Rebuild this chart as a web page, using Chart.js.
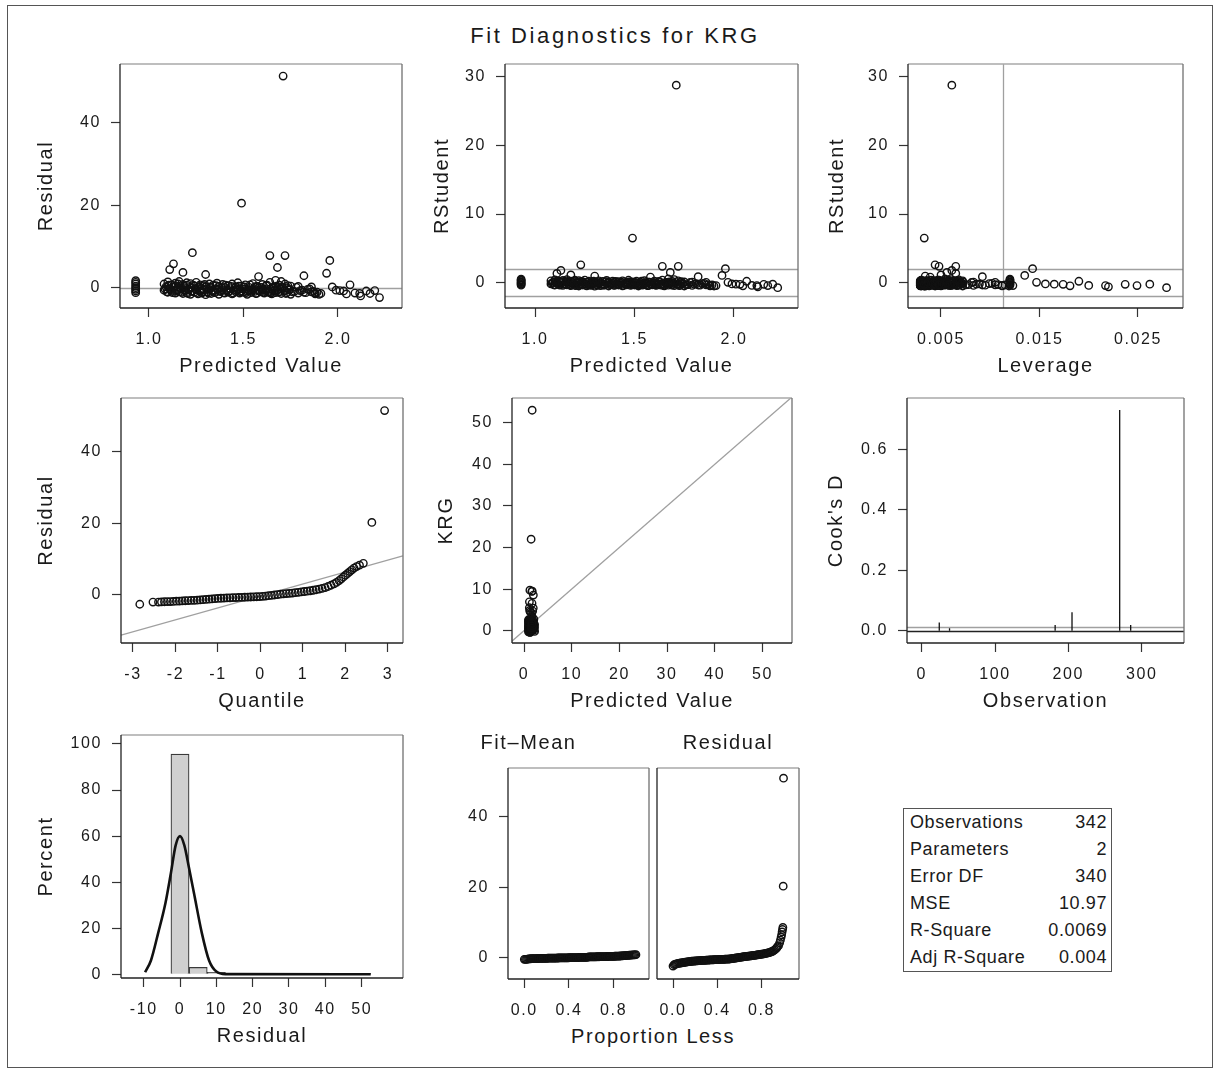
<!DOCTYPE html>
<html>
<head>
<meta charset="utf-8">
<script src="https://cdn.jsdelivr.net/npm/chart.js@4.4.1/dist/chart.umd.min.js"></script>
<style>
  body { margin: 0; background: #fff; font-family: "Liberation Sans", Arial, sans-serif; color: #1a1a1a; }
  #page { position: relative; width: 1218px; height: 1073px; overflow: hidden; }
  #border { position: absolute; left: 7px; top: 5px; width: 1204px; height: 1061px; border: 1.5px solid #555; }
  canvas { position: absolute; }
  .label { position: absolute; text-align: center; white-space: nowrap; }
  #title { left: 315px; top: 23px; width: 600px; font-size: 22px; line-height: 26px; letter-spacing: 2.6px; }
  #propLess { left: 453px; top: 1024px; width: 400px; font-size: 20px; line-height: 24px; letter-spacing: 1.6px; }
  #stats { position: absolute; left: 903px; top: 808px; width: 209px; border: 1.3px solid #555; border-collapse: collapse; font-size: 18px; letter-spacing: 0.6px; }
  #stats td { height: 27px; padding: 0; line-height: 27px; }
  #stats td.k { padding-left: 6px; text-align: left; }
  #stats td.v { padding-right: 4px; text-align: right; }
</style>
</head>
<body>
<div id="page">
  <div id="border"></div>
  <div id="title" class="label">Fit Diagnostics for KRG</div>
  <div id="propLess" class="label">Proportion Less</div>
  <table id="stats"></table>
</div>
<script>
// ---- observations (one entry per plotted observation) ----
const predicted = [
  0.93,0.93,0.93,0.93,0.93,0.93,0.93,0.93,1.08,1.08,
  1.09,1.10,1.10,1.10,1.11,1.11,1.12,1.12,1.13,1.13,
  1.14,1.14,1.14,1.15,1.16,1.16,1.16,1.17,1.18,1.18,
  1.18,1.19,1.19,1.20,1.20,1.20,1.21,1.22,1.22,1.22,
  1.23,1.23,1.24,1.24,1.25,1.25,1.26,1.26,1.27,1.27,
  1.28,1.28,1.29,1.29,1.30,1.30,1.30,1.31,1.32,1.32,
  1.33,1.33,1.34,1.34,1.35,1.36,1.36,1.37,1.37,1.38,
  1.39,1.39,1.40,1.40,1.41,1.42,1.42,1.43,1.44,1.44,
  1.45,1.46,1.46,1.47,1.47,1.48,1.49,1.49,1.49,1.50,
  1.51,1.51,1.52,1.53,1.53,1.54,1.55,1.55,1.56,1.57,
  1.57,1.58,1.58,1.59,1.60,1.60,1.61,1.62,1.62,1.63,
  1.64,1.64,1.64,1.65,1.66,1.66,1.67,1.67,1.68,1.68,
  1.69,1.69,1.70,1.70,1.71,1.72,1.72,1.72,1.73,1.73,
  1.74,1.75,1.75,1.77,1.79,1.79,1.81,1.82,1.82,1.84,
  1.86,1.86,1.88,1.88,1.90,1.91,1.94,1.957,1.97,1.99,
  2.01,2.03,2.045,2.064,2.09,2.115,2.12,2.15,2.17,2.195,
  2.22,
  1.085,1.095,1.105,1.115,1.125,1.135,1.145,1.155,1.165,1.175,
  1.185,1.195,1.205,1.215,1.225,1.235,1.245,1.255,1.265,1.275,
  1.285,1.295,1.305,1.315,1.325,1.335,1.345,1.355,1.365,1.375,
  1.385,1.395,1.405,1.415,1.425,1.435,1.445,1.455,1.465,1.475,
  1.485,1.495,1.505,1.515,1.525,1.535,1.545,1.555,1.565,1.575,
  1.585,1.595,1.605,1.615,1.625,1.635,1.645,1.655,1.665,1.675,
  1.685,1.695,1.705,1.715,1.725,1.735,1.745,1.76,1.78,1.80,
  1.83,1.85,1.87,1.89,1.48,1.52,1.56,1.60,1.64,1.68
];
const residual = [
  -1.2,-0.8,-0.4,0.0,0.4,0.9,1.3,1.7,-0.6,0.9,
  0.2,-1.1,0.4,1.4,-0.2,4.4,-0.9,0.7,5.8,0.1,
  -1.3,0.5,1.1,-0.5,-1.0,0.3,1.5,-0.3,-1.4,0.8,
  3.7,-0.7,0.0,-1.2,0.6,1.2,-0.4,-1.6,-0.1,1.0,
  8.5,-0.8,-1.1,0.4,-0.5,1.3,-1.5,0.1,-0.9,0.7,
  -1.3,-0.2,0.5,-0.6,-1.7,3.2,0.2,-1.0,-0.4,0.9,
  -1.4,0.0,-0.8,0.6,-1.2,-0.3,1.1,-1.6,0.3,-0.9,
  -0.5,0.8,-1.3,0.1,-0.7,-1.1,0.5,-0.2,-1.5,0.9,
  -0.6,-1.0,0.2,-0.4,1.2,-1.3,20.5,-0.8,0.4,-1.1,
  -0.3,0.7,-1.6,-0.7,0.1,-1.2,-0.5,1.0,-0.9,-1.4,
  0.3,2.7,-0.6,-1.0,-0.2,0.8,-1.3,-0.7,0.5,-1.1,
  7.8,-0.4,1.3,-1.5,-0.8,0.2,-1.2,1.8,4.9,-0.5,
  -1.0,0.6,-1.4,1.5,51.3,7.8,-0.7,0.9,-1.2,0.0,
  -0.5,-1.6,0.4,-0.9,-1.3,0.3,-0.6,2.9,-1.1,-0.4,
  -1.0,0.2,-1.5,-1.3,-1.6,-1.4,3.5,6.6,0.2,-0.6,
  -0.7,-0.8,-1.5,0.7,-1.3,-1.4,-2.0,-0.8,-1.4,-0.7,
  -2.4,
  -0.3,-1.0,0.6,-0.5,-1.2,0.2,-0.8,0.9,-0.4,-1.1,
  0.4,-0.6,-1.4,0.1,-0.9,0.6,-0.2,-1.2,0.3,-0.7,
  -1.0,0.8,-0.3,-1.3,0.2,-0.6,-1.1,0.5,-0.4,-0.9,
  0.0,-1.2,0.6,-0.5,-0.8,0.3,-1.3,-0.1,-0.7,0.4,
  -1.0,-0.3,0.2,-1.2,-0.6,0.7,-0.9,-0.2,-1.4,0.3,
  -0.8,0.1,-1.1,-0.4,0.6,-0.9,-1.3,0.0,-0.6,0.4,
  -1.1,-0.3,0.2,-0.8,-1.4,0.5,-0.5,-1.0,0.1,-0.7,
  -1.2,-0.3,-0.9,-1.1,-0.2,-0.9,0.2,-0.5,-1.0,0.0
];
const rstudent = [
  -0.36,-0.24,-0.12,0.00,0.12,0.27,0.39,0.51,-0.18,0.27,
  0.06,-0.33,0.12,0.42,-0.06,1.35,-0.27,0.21,1.78,0.03,
  -0.39,0.15,0.33,-0.15,-0.30,0.09,0.45,-0.09,-0.42,0.24,
  1.13,-0.21,0.00,-0.36,0.18,0.36,-0.12,-0.48,-0.03,0.30,
  2.60,-0.24,-0.33,0.12,-0.15,0.39,-0.45,0.03,-0.27,0.21,
  -0.39,-0.06,0.15,-0.18,-0.51,0.97,0.06,-0.30,-0.12,0.27,
  -0.42,0.00,-0.24,0.18,-0.36,-0.09,0.33,-0.48,0.09,-0.27,
  -0.15,0.24,-0.39,0.03,-0.21,-0.33,0.15,-0.06,-0.45,0.27,
  -0.18,-0.30,0.06,-0.12,0.36,-0.39,6.50,-0.24,0.12,-0.33,
  -0.09,0.21,-0.48,-0.21,0.03,-0.36,-0.15,0.30,-0.27,-0.42,
  0.09,0.82,-0.18,-0.30,-0.06,0.24,-0.39,-0.21,0.15,-0.33,
  2.38,-0.12,0.39,-0.45,-0.24,0.06,-0.36,0.54,1.50,-0.15,
  -0.30,0.18,-0.42,0.45,28.75,2.38,-0.21,0.27,-0.36,0.00,
  -0.15,-0.48,0.12,-0.27,-0.39,0.09,-0.18,0.88,-0.33,-0.12,
  -0.30,0.06,-0.45,-0.39,-0.48,-0.42,1.06,2.05,0.06,-0.18,
  -0.21,-0.24,-0.45,0.21,-0.39,-0.42,-0.60,-0.24,-0.42,-0.21,
  -0.72,
  -0.09,-0.30,0.18,-0.15,-0.36,0.06,-0.24,0.27,-0.12,-0.33,
  0.12,-0.18,-0.42,0.03,-0.27,0.18,-0.06,-0.36,0.09,-0.21,
  -0.30,0.24,-0.09,-0.39,0.06,-0.18,-0.33,0.15,-0.12,-0.27,
  0.00,-0.36,0.18,-0.15,-0.24,0.09,-0.39,-0.03,-0.21,0.12,
  -0.30,-0.09,0.06,-0.36,-0.18,0.21,-0.27,-0.06,-0.42,0.09,
  -0.24,0.03,-0.33,-0.12,0.18,-0.27,-0.39,0.00,-0.18,0.12,
  -0.33,-0.09,0.06,-0.24,-0.42,0.15,-0.15,-0.30,0.03,-0.21,
  -0.36,-0.09,-0.27,-0.33,-0.06,-0.27,0.06,-0.15,-0.30,0.00
];
const leverage = [
  0.0120,0.0120,0.0120,0.0120,0.0120,0.0120,0.0120,0.0120,0.0072,0.0072,
  0.0070,0.0068,0.0068,0.0068,0.0065,0.0065,0.0063,0.0063,0.0061,0.0061,
  0.0058,0.0058,0.0058,0.0056,0.0054,0.0054,0.0054,0.0052,0.0050,0.0050,
  0.0050,0.0049,0.0049,0.0047,0.0047,0.0047,0.0046,0.0044,0.0044,0.0044,
  0.0044,0.0042,0.0041,0.0041,0.0040,0.0040,0.0038,0.0038,0.0037,0.0037,
  0.0036,0.0036,0.0035,0.0035,0.0034,0.0034,0.0034,0.0033,0.0033,0.0033,
  0.0032,0.0032,0.0031,0.0031,0.0031,0.0030,0.0030,0.0030,0.0030,0.0030,
  0.0029,0.0029,0.0029,0.0029,0.0029,0.0029,0.0029,0.0029,0.0029,0.0029,
  0.0029,0.0029,0.0029,0.0030,0.0030,0.0030,0.0033,0.0031,0.0031,0.0032,
  0.0032,0.0032,0.0033,0.0034,0.0034,0.0035,0.0036,0.0036,0.0037,0.0038,
  0.0038,0.0039,0.0039,0.0041,0.0042,0.0042,0.0043,0.0045,0.0045,0.0047,
  0.0048,0.0048,0.0048,0.0050,0.0052,0.0052,0.0054,0.0054,0.0056,0.0056,
  0.0058,0.0058,0.0060,0.0060,0.0061,0.0065,0.0065,0.0065,0.0067,0.0067,
  0.0070,0.0072,0.0072,0.0078,0.0083,0.0083,0.0089,0.0092,0.0092,0.0099,
  0.0105,0.0105,0.0112,0.0112,0.0119,0.0123,0.0135,0.0143,0.0147,0.0156,
  0.0165,0.0174,0.0181,0.0190,0.0200,0.0217,0.0220,0.0237,0.0249,0.0262,
  0.0279,
  0.0071,0.0069,0.0067,0.0064,0.0062,0.0060,0.0057,0.0055,0.0053,0.0051,
  0.0050,0.0048,0.0047,0.0045,0.0043,0.0042,0.0040,0.0039,0.0038,0.0037,
  0.0036,0.0035,0.0034,0.0033,0.0032,0.0032,0.0031,0.0030,0.0030,0.0030,
  0.0029,0.0029,0.0029,0.0029,0.0029,0.0029,0.0029,0.0029,0.0030,0.0030,
  0.0031,0.0031,0.0032,0.0033,0.0034,0.0034,0.0035,0.0036,0.0037,0.0038,
  0.0040,0.0041,0.0043,0.0044,0.0046,0.0047,0.0049,0.0051,0.0053,0.0055,
  0.0057,0.0059,0.0061,0.0064,0.0066,0.0069,0.0071,0.0075,0.0081,0.0086,
  0.0095,0.0102,0.0108,0.0115,0.0030,0.0033,0.0037,0.0042,0.0048,0.0056
];

// ---- Q-Q plot of residuals ----
const qqQuantile = [
  -2.84,-2.53,-2.40,-2.33,-2.26,-2.19,-2.12,-2.05,-1.98,-1.91,
  -1.84,-1.77,-1.70,-1.63,-1.56,-1.49,-1.42,-1.35,-1.28,-1.21,
  -1.14,-1.07,-1.00,-0.93,-0.86,-0.79,-0.72,-0.65,-0.58,-0.51,
  -0.44,-0.37,-0.30,-0.23,-0.16,-0.09,-0.02,0.05,0.12,0.19,
  0.26,0.33,0.40,0.47,0.54,0.61,0.68,0.75,0.82,0.89,
  0.96,1.03,1.10,1.17,1.24,1.31,1.38,1.45,1.52,1.59,
  1.66,1.73,1.79,1.85,1.90,1.95,2.00,2.05,2.10,2.15,
  2.20,2.26,2.33,2.42,2.62,2.92
];
const qqResidual = [
  -2.6,-2.0,-2.0,-1.95,-1.9,-1.88,-1.85,-1.8,-1.75,-1.72,
  -1.68,-1.62,-1.58,-1.53,-1.5,-1.45,-1.38,-1.32,-1.26,-1.18,
  -1.1,-1.03,-0.97,-0.92,-0.88,-0.84,-0.8,-0.77,-0.74,-0.7,
  -0.67,-0.64,-0.6,-0.57,-0.53,-0.5,-0.46,-0.4,-0.32,-0.22,
  -0.12,-0.02,0.1,0.2,0.3,0.37,0.44,0.52,0.62,0.73,
  0.84,0.95,1.05,1.16,1.3,1.45,1.62,1.82,2.05,2.35,
  2.7,3.1,3.5,4.0,4.5,5.0,5.5,6.0,6.5,7.0,
  7.5,7.9,8.3,8.8,20.2,51.4
];
const qqLineX = [-3.28, 3.35];
const qqLineY = [-11.2, 10.9];
const identityLine = [-3, 57];

// ---- Cook's D needles ----
const cookObs = [24, 38, 182, 205, 270, 285];
const cookD = [0.027, 0.008, 0.019, 0.061, 0.729, 0.019];
const cookCutoff = 0.0117;

// ---- residual histogram and density curve ----
const histMid = [0, 5, 10, 15, 20, 25, 30, 35, 40, 45, 50];
const histPct = [95.6, 3.0, 0.9, 0, 0.3, 0, 0, 0, 0, 0, 0.3];
const curveX = [-9.6, -8, -6, -4, -2.5, -1.2, 0, 1.2, 2.5, 4, 6, 8, 10, 12.5, 52.5];
const curveY = [0.9, 6, 18, 31, 44, 56, 60, 56, 46, 34, 18, 6, 1.2, 0.1, 0];

// ---- residual-fit spread ----
const propFit = [
  0.00,0.02,0.04,0.06,0.08,0.10,0.12,0.14,0.16,0.18,0.20,0.22,0.24,0.26,0.28,0.30,0.32,
  0.34,0.36,0.38,0.40,0.42,0.44,0.46,0.48,0.50,0.52,0.54,0.56,0.58,0.60,0.62,0.64,0.66,
  0.68,0.70,0.72,0.74,0.76,0.78,0.80,0.82,0.84,0.86,0.88,0.90,0.92,0.94,0.96,0.98,1.00,
  0.01,0.03,0.05,0.07,0.09,0.11,0.13,0.15,0.17,0.19,0.21,0.23,0.25,0.27,0.29,0.31,0.33,
  0.35,0.37,0.39,0.41,0.43,0.45,0.47,0.49,0.51,0.53,0.55,0.57,0.59,0.61,0.63,0.65,0.67,
  0.69,0.71,0.73,0.75,0.77,0.79,0.81,0.83,0.85,0.87,0.89,0.91,0.93,0.95,0.97,0.99
];
const fitMean = [
  -0.49,-0.49,-0.34,-0.31,-0.29,-0.27,-0.25,-0.23,-0.21,-0.19,-0.18,-0.16,-0.15,-0.13,-0.12,-0.10,-0.09,
  -0.07,-0.06,-0.04,-0.03,-0.01,0.00,0.02,0.03,0.05,0.06,0.08,0.10,0.20,0.21,0.23,0.24,0.26,
  0.27,0.29,0.30,0.32,0.34,0.36,0.38,0.41,0.44,0.47,0.53,0.58,0.63,0.68,0.74,0.79,0.83,
  -0.49,-0.40,-0.33,-0.30,-0.28,-0.26,-0.24,-0.22,-0.20,-0.19,-0.17,-0.16,-0.14,-0.13,-0.11,-0.10,-0.08,
  -0.07,-0.05,-0.04,-0.02,-0.01,0.01,0.02,0.04,0.05,0.07,0.09,0.15,0.20,0.22,0.23,0.25,0.26,
  0.28,0.29,0.31,0.33,0.35,0.37,0.39,0.42,0.45,0.50,0.55,0.60,0.65,0.71,0.76,0.81
];
const propResid = [
  0.00,0.01,0.02,0.04,0.06,0.08,0.10,0.12,0.14,0.16,0.18,0.20,0.22,0.24,0.26,0.28,0.30,
  0.32,0.34,0.36,0.38,0.40,0.42,0.44,0.46,0.48,0.50,0.52,0.54,0.56,0.58,0.60,0.62,0.64,
  0.66,0.68,0.70,0.72,0.74,0.76,0.78,0.80,0.82,0.84,0.86,0.88,0.90,0.92,0.94,0.955,0.965,
  0.972,0.978,0.983,0.987,0.991,0.994,0.997,1.000,
  0.03,0.05,0.07,0.09,0.11,0.13,0.15,0.17,0.19,0.21,0.23,0.25,0.27,0.29,0.31,0.33,0.35,
  0.37,0.39,0.41,0.43,0.45,0.47,0.49,0.51,0.53,0.55,0.57,0.59,0.61,0.63,0.65,0.67,0.69,
  0.71,0.73,0.75,0.77,0.79,0.81,0.83,0.85,0.87,0.89,0.91,0.93,0.945
];
const sortedResid = [
  -2.4,-2.0,-1.9,-1.72,-1.58,-1.47,-1.36,-1.26,-1.16,-1.06,-1.0,-0.95,-0.9,-0.85,-0.8,-0.77,-0.73,
  -0.69,-0.65,-0.62,-0.59,-0.56,-0.53,-0.5,-0.47,-0.44,-0.42,-0.35,-0.25,-0.15,-0.05,0.05,0.15,0.25,
  0.33,0.41,0.5,0.58,0.67,0.77,0.87,0.97,1.08,1.2,1.35,1.55,1.8,2.2,2.8,3.4,4.2,
  5.0,5.8,6.5,7.3,8.0,8.6,20.3,51.0,
  -1.8,-1.65,-1.52,-1.41,-1.31,-1.21,-1.11,-1.03,-0.97,-0.92,-0.87,-0.82,-0.78,-0.75,-0.71,-0.67,-0.63,
  -0.6,-0.57,-0.54,-0.51,-0.48,-0.45,-0.43,-0.38,-0.3,-0.2,-0.1,0.0,0.1,0.2,0.29,0.37,0.45,
  0.54,0.62,0.72,0.82,0.92,1.02,1.14,1.27,1.45,1.67,2.0,2.5,3.1
];

// ---- fit statistics ----
const statLabels = ["Observations", "Parameters", "Error DF", "MSE", "R-Square", "Adj R-Square"];
const statValues = ["342", "2", "340", "10.97", "0.0069", "0.004"];

// ---- tick values ----
const predTicks = [1.0, 1.5, 2.0];
const residTicks = [0, 20, 40];
const rstudTicks = [0, 10, 20, 30];
const levTicks = [0.005, 0.015, 0.025];
const quantTicks = [-3, -2, -1, 0, 1, 2, 3];
const krgTicks = [0, 10, 20, 30, 40, 50];
const cookTicks = [0, 0.2, 0.4, 0.6];
const obsTicks = [0, 100, 200, 300];
const histXTicks = [-10, 0, 10, 20, 30, 40, 50];
const pctTicks = [0, 20, 40, 60, 80, 100];
const propTicks = [0, 0.4, 0.8];

const INK = "#1a1a1a";
const REF = "#a0a0a0";
Chart.defaults.font.family = '"Liberation Sans", Arial, sans-serif';
Chart.defaults.color = INK;
Chart.defaults.animation = false;
Chart.defaults.events = [];
Chart.defaults.plugins.legend.display = false;
Chart.defaults.plugins.tooltip.enabled = false;

// frame + reference lines
const panelPlugin = {
    id: "panel",
    beforeDraw(chart) {
        chart.ctx.letterSpacing = "1.6px";
    },
    beforeDatasetsDraw(chart, args, opts) {
        const { ctx, chartArea: a, scales } = chart;
        ctx.save();
        (opts.hLines || []).forEach((r) => {
            const y = Math.round(scales.y.getPixelForValue(r.value)) + 0.5;
            ctx.strokeStyle = r.color || REF;
            ctx.lineWidth = r.width || 1.3;
            ctx.beginPath();
            ctx.moveTo(a.left, y);
            ctx.lineTo(a.right, y);
            ctx.stroke();
        });
        (opts.vLines || []).forEach((r) => {
            const x = Math.round(scales.x.getPixelForValue(r.value)) + 0.5;
            ctx.strokeStyle = r.color || REF;
            ctx.lineWidth = r.width || 1.3;
            ctx.beginPath();
            ctx.moveTo(x, a.top);
            ctx.lineTo(x, a.bottom);
            ctx.stroke();
        });
        ctx.restore();
    },
    afterDraw(chart) {
        const { ctx, chartArea: a } = chart;
        const seg = (c, x1, y1, x2, y2) => {
            ctx.strokeStyle = c;
            ctx.beginPath();
            ctx.moveTo(x1, y1);
            ctx.lineTo(x2, y2);
            ctx.stroke();
        };
        ctx.save();
        ctx.lineWidth = 1.3;
        seg("#a8a8a8", a.left, a.top, a.right, a.top);
        seg("#707070", a.right, a.top, a.right, a.bottom);
        seg("#222", a.left, a.bottom, a.right, a.bottom);
        seg("#222", a.left, a.top, a.left, a.bottom);
        ctx.restore();
    },
};
Chart.register(panelPlugin);

const gridStyle = { drawOnChartArea: false, tickLength: 9, tickColor: "#333", tickWidth: 1.2, offset: false };

function xAxis(min, max, ticks, dec, title) {
    return {
        type: "linear", position: "bottom", min, max, offset: false,
        afterBuildTicks: (s) => { s.ticks = ticks.map((v) => ({ value: v })); },
        afterFit: (s) => { s.height = 72; s.paddingLeft = 0; s.paddingRight = 0; },
        grid: gridStyle,
        border: { display: false },
        ticks: { autoSkip: false, maxRotation: 0, padding: 13, font: { size: 16 }, color: INK, callback: (v) => v.toFixed(dec) },
        title: { display: !!title, text: title || "", font: { size: 20 }, color: INK, padding: { top: 0, bottom: 2 } },
    };
}

function yAxis(min, max, ticks, dec, title, gap) {
    return {
        type: "linear", position: "left", min, max,
        afterBuildTicks: (s) => { s.ticks = ticks.map((v) => ({ value: v })); },
        afterFit: (s) => { s.width = 100; s.paddingTop = 0; s.paddingBottom = 0; },
        grid: gridStyle,
        border: { display: false },
        ticks: { autoSkip: false, padding: 10, font: { size: 16 }, color: INK, callback: (v) => v.toFixed(dec) },
        title: { display: !!title, text: title || "", font: { size: 20 }, color: INK, padding: { top: 88 - (gap || 74), bottom: 0 } },
    };
}

// box = plot area in page pixels
function panel(box, config, opts = {}) {
    const padTop = opts.header ? 39 : 2;
    const left = box.l - (opts.noY ? 2 : 100);
    const top = box.t - padTop;
    const cv = document.createElement("canvas");
    cv.width = box.r + 2 - left;
    cv.height = box.b + 72 - top;
    cv.style.left = left + "px";
    cv.style.top = top + "px";
    document.getElementById("page").appendChild(cv);
    config.options.responsive = false;
    config.options.layout = { autoPadding: false, padding: { top: 2, right: 2, left: opts.noY ? 2 : 0, bottom: 0 } };
    return new Chart(cv, config);
}

const ring = {
    pointStyle: "circle", pointRadius: 3.7, pointBorderWidth: 1.4,
    pointBorderColor: "#111", pointBackgroundColor: "rgba(0,0,0,0)", showLine: false,
};
const refLine = (data) => ({
    type: "line", data, borderColor: REF, borderWidth: 1.3, pointRadius: 0, showLine: true,
});
const pairs = (xs, ys) => xs.map((x, i) => ({ x, y: ys[i] }));

// 1. residual vs predicted
panel({ l: 120, t: 64, r: 402, b: 308 }, {
    type: "scatter",
    data: { datasets: [{ ...ring, data: pairs(predicted, residual) }] },
    options: {
        scales: { x: xAxis(0.847, 2.339, predTicks, 1, "Predicted Value"), y: yAxis(-4.92, 54.23, residTicks, 0, "Residual", 74) },
        plugins: { panel: { hLines: [{ value: 0 }] } },
    },
});

// 2. rstudent vs predicted
panel({ l: 505, t: 64, r: 798, b: 308 }, {
    type: "scatter",
    data: { datasets: [{ ...ring, data: pairs(predicted, rstudent) }] },
    options: {
        scales: { x: xAxis(0.849, 2.322, predTicks, 1, "Predicted Value"), y: yAxis(-3.68, 31.83, rstudTicks, 0, "RStudent", 63) },
        plugins: { panel: { hLines: [{ value: 2 }, { value: -2 }] } },
    },
});

// 3. rstudent vs leverage
panel({ l: 908, t: 64, r: 1183, b: 308 }, {
    type: "scatter",
    data: { datasets: [{ ...ring, data: pairs(leverage, rstudent) }] },
    options: {
        scales: { x: xAxis(0.00165, 0.02957, levTicks, 3, "Leverage"), y: yAxis(-3.68, 31.83, rstudTicks, 0, "RStudent", 71) },
        plugins: { panel: { hLines: [{ value: 2 }, { value: -2 }], vLines: [{ value: 0.0113 }] } },
    },
});

// 4. Q-Q plot
panel({ l: 121, t: 398, r: 403, b: 643 }, {
    type: "scatter",
    data: { datasets: [{ ...ring, data: pairs(qqQuantile, qqResidual) }, refLine(pairs(qqLineX, qqLineY))] },
    options: {
        scales: { x: xAxis(-3.282, 3.353, quantTicks, 0, "Quantile"), y: yAxis(-13.4, 54.9, residTicks, 0, "Residual", 75) },
        plugins: { panel: {} },
    },
});

// 5. observed vs predicted
panel({ l: 512, t: 398, r: 792, b: 643 }, {
    type: "scatter",
    data: {
        datasets: [
            { ...ring, data: predicted.map((p, i) => ({ x: p, y: p + residual[i] })) },
            refLine(pairs(identityLine, identityLine)),
        ],
    },
    options: {
        scales: { x: xAxis(-2.52, 56.2, krgTicks, 0, "Predicted Value"), y: yAxis(-2.96, 55.95, krgTicks, 0, "KRG", 66) },
        plugins: { panel: {} },
    },
});

// 6. Cook's D needles
const needles = [];
cookObs.forEach((o, i) => {
    needles.push({ x: o, y: 0 }, { x: o, y: cookD[i] }, { x: o, y: null });
});
panel({ l: 907, t: 398, r: 1184, b: 643 }, {
    type: "scatter",
    data: {
        datasets: [{ type: "line", data: needles, borderColor: "#111", borderWidth: 1.3, pointRadius: 0, showLine: true, spanGaps: false }],
    },
    options: {
        scales: { x: xAxis(-20, 357.7, obsTicks, 0, "Observation"), y: yAxis(-0.0407, 0.769, cookTicks, 1, "Cook's D", 71) },
        plugins: { panel: { hLines: [{ value: cookCutoff }, { value: 0, color: "#222", width: 1.5 }] } },
    },
});

// 7. residual histogram
panel({ l: 121, t: 735, r: 403, b: 978 }, {
    type: "bar",
    data: {
        datasets: [
            { type: "line", data: pairs(curveX, curveY), borderColor: "#111", borderWidth: 2.6, pointRadius: 0, cubicInterpolationMode: "monotone" },
            {
                type: "bar", data: pairs(histMid, histPct), backgroundColor: "#d0d0d0", borderColor: "#3a3a3a",
                borderWidth: 1.2, barPercentage: 1, categoryPercentage: 1, grouped: false,
            },
        ],
    },
    options: {
        scales: { x: xAxis(-16.24, 61.38, histXTicks, 0, "Residual"), y: yAxis(-1.6, 103.9, pctTicks, 0, "Percent", 75) },
        plugins: { panel: {} },
    },
});

// 8. residual-fit spread
const headerTitle = (text) => ({
    display: true, text, font: { size: 20, weight: "normal" }, color: INK, padding: { top: 0, bottom: 13 },
});
panel({ l: 508, t: 768, r: 649, b: 979 }, {
    type: "scatter",
    data: { datasets: [{ ...ring, data: pairs(propFit, fitMean) }] },
    options: {
        scales: { x: xAxis(-0.146, 1.117, propTicks, 1, ""), y: yAxis(-6.07, 53.9, residTicks, 0, "", 70) },
        plugins: { title: headerTitle("Fit–Mean"), panel: {} },
    },
}, { header: true });
panel({ l: 657, t: 768, r: 799, b: 979 }, {
    type: "scatter",
    data: { datasets: [{ ...ring, data: pairs(propResid, sortedResid) }] },
    options: {
        scales: { x: xAxis(-0.145, 1.14, propTicks, 1, ""), y: { type: "linear", display: false, min: -6.07, max: 53.9 } },
        plugins: { title: headerTitle("Residual"), panel: {} },
    },
}, { header: true, noY: true });

// stats table
const table = document.getElementById("stats");
statLabels.forEach((k, i) => {
    const tr = table.insertRow();
    const a = tr.insertCell();
    a.className = "k";
    a.textContent = k;
    const b = tr.insertCell();
    b.className = "v";
    b.textContent = statValues[i];
});
</script>
</body>
</html>
